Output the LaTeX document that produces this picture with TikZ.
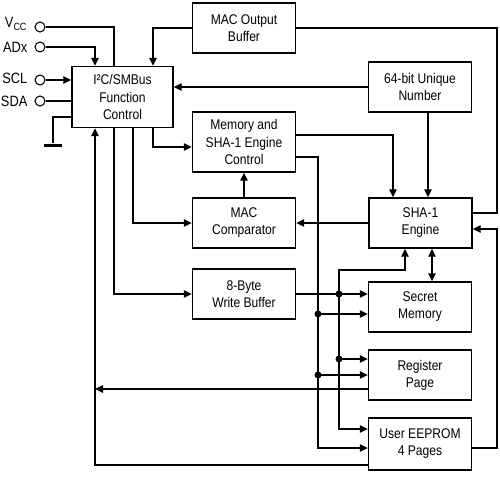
\documentclass[tikz,border=0pt]{standalone}
\usepackage{fontspec}
\newfontfamily\blockfont{Liberation Sans}[FakeStretch=0.86]
\usetikzlibrary{arrows.meta,positioning,calc}

\begin{document}
\begin{tikzpicture}[
  x=0.02cm,y=-0.02cm,
  font=\blockfont\fontsize{8}{9.7}\selectfont,
  blk/.style={draw,line width=0.8pt,align=center,inner sep=2pt,
    minimum width=2.06cm,minimum height=1cm},
  wire/.style={line width=0.7pt},
  flow/.style={wire,-{Triangle[length=1.6mm,width=1.5mm]}},
  both/.style={wire,{Triangle[length=1.6mm,width=1.5mm]}-{Triangle[length=1.6mm,width=1.5mm]}},
  pin/.style={circle,draw,line width=0.6pt,minimum size=0.2cm,inner sep=0pt},
  pinlabel/.style={inner sep=1pt,font=\blockfont\fontsize{8.5}{10}\selectfont},
  gndbar/.style={fill,minimum width=0.36cm,minimum height=0.06cm,inner sep=0pt}
]
  \useasboundingbox (0,0) rectangle (500,483);

  % blocks
  \node[blk,minimum width=2.02cm,minimum height=1.22cm] (fc) at (122.5,97)
    {I²C/SMBus\\Function\\Control};
  \node[blk] (mob) at (244,28) {MAC Output\\Buffer};
  \node[blk] (uid) at (420,87) {64-bit Unique\\Number};
  \node[blk,minimum height=1.2cm] (msc) at (244,142) {Memory and\\SHA-1 Engine\\Control};
  \node[blk] (cmp) at (244,223) {MAC\\Comparator};
  \node[blk] (wb) at (244,294) {8-Byte\\Write Buffer};
  \node[blk] (sha) at (420.5,223) {SHA-1\\Engine};
  \node[blk] (sec) at (420,307) {Secret\\Memory};
  \node[blk] (reg) at (420,375) {Register\\Page};
  \node[blk,minimum height=1.04cm] (eep) at (420,444) {User EEPROM\\4 Pages};

  % pins
  \node[pin] (vcc) at (40,27) {};
  \node[pin] (adx) at (40,47) {};
  \node[pin] (scl) at (40,80) {};
  \node[pin] (sda) at (40,101) {};
  \node[pinlabel,left=0.1cm of vcc,yshift=0.06cm] (vccl) {V\textsubscript{CC}};
  \node[pinlabel,left=0.1cm of adx] (adxl) {ADx};
  \node[pinlabel,left=0.1cm of scl,yshift=0.04cm] (scll) {SCL};
  \node[pinlabel,left=0.1cm of sda] (sdal) {SDA};
  \node[gndbar] (gnd) at (53,145) {};

  % bend points and taps
  \coordinate (rtop) at (497,213);
  \coordinate (rlow) at (497,229);
  \coordinate (jA) at (339,294);
  \coordinate (jB) at (318,314);
  \coordinate (jC) at (339,359);
  \coordinate (jD) at (318,375);
  \coordinate (busTop) at (339,270);
  \coordinate (fb) at (95,389);

  % pin wiring
  \draw[wire] (vcc) -| (fc.north -| 114,0);
  \draw[flow] (adx) -| (fc.north -| 95,0);
  \draw[flow] (scl) -- (fc.west |- scl);
  \draw[wire] (sda) -- (fc.west |- sda);
  \draw[wire] (fc.west |- 0,117) -| (gnd);

  % control paths
  \draw[flow] (mob.west) -| (fc.north -| 153,0);
  \draw[wire] (mob.east) -| (rtop) -- (sha.east |- rtop);
  \draw[flow] (uid.west) -- (fc.east |- uid.west);
  \draw[flow] (uid.south -| 428,0) -- (sha.north -| 428,0);
  \draw[flow] (fc.south -| 153,0) |- (msc.west |- 0,147);
  \draw[flow] (fc.south -| 133,0) |- (cmp.west);
  \draw[flow] (fc.south -| 114,0) |- (wb.west);
  \draw[flow] (cmp.north) -- (msc.south);
  \draw[flow] (sha.west) -- (cmp.east);
  \draw[flow] (msc.east |- 0,135) -| (sha.north -| 393,0);
  \draw[both] (sha.south -| 432,0) -- (sec.north -| 432,0);

  % memory bus from control block
  \draw[flow] (msc.east |- 0,157) -| (jB) -- (jD) |- (eep.west |- 0,448);
  \draw[flow] (jB) -- (sec.west |- jB);
  \draw[flow] (jD) -- (reg.west |- jD);

  % data bus from write buffer
  \draw[flow] (wb.east) -- (sec.west |- wb.east);
  \draw[flow] (jA) -- (busTop) -| (sha.south -| 405,0);
  \draw[flow] (jA) -- (jC) |- (eep.west |- 0,429);
  \draw[flow] (jC) -- (reg.west |- jC);
  \fill (jA) circle (0.07cm) (jB) circle (0.07cm)
        (jC) circle (0.07cm) (jD) circle (0.07cm);

  % read back
  \draw[flow] (eep.east |- 0,448) -| (rlow) -- (sha.east |- rlow);
  \draw[flow] (reg.west |- fb) -- (fb);
  \draw[flow] (eep.west |- 0,465) -| (fc.south -| 95,0);
\end{tikzpicture}
\end{document}
